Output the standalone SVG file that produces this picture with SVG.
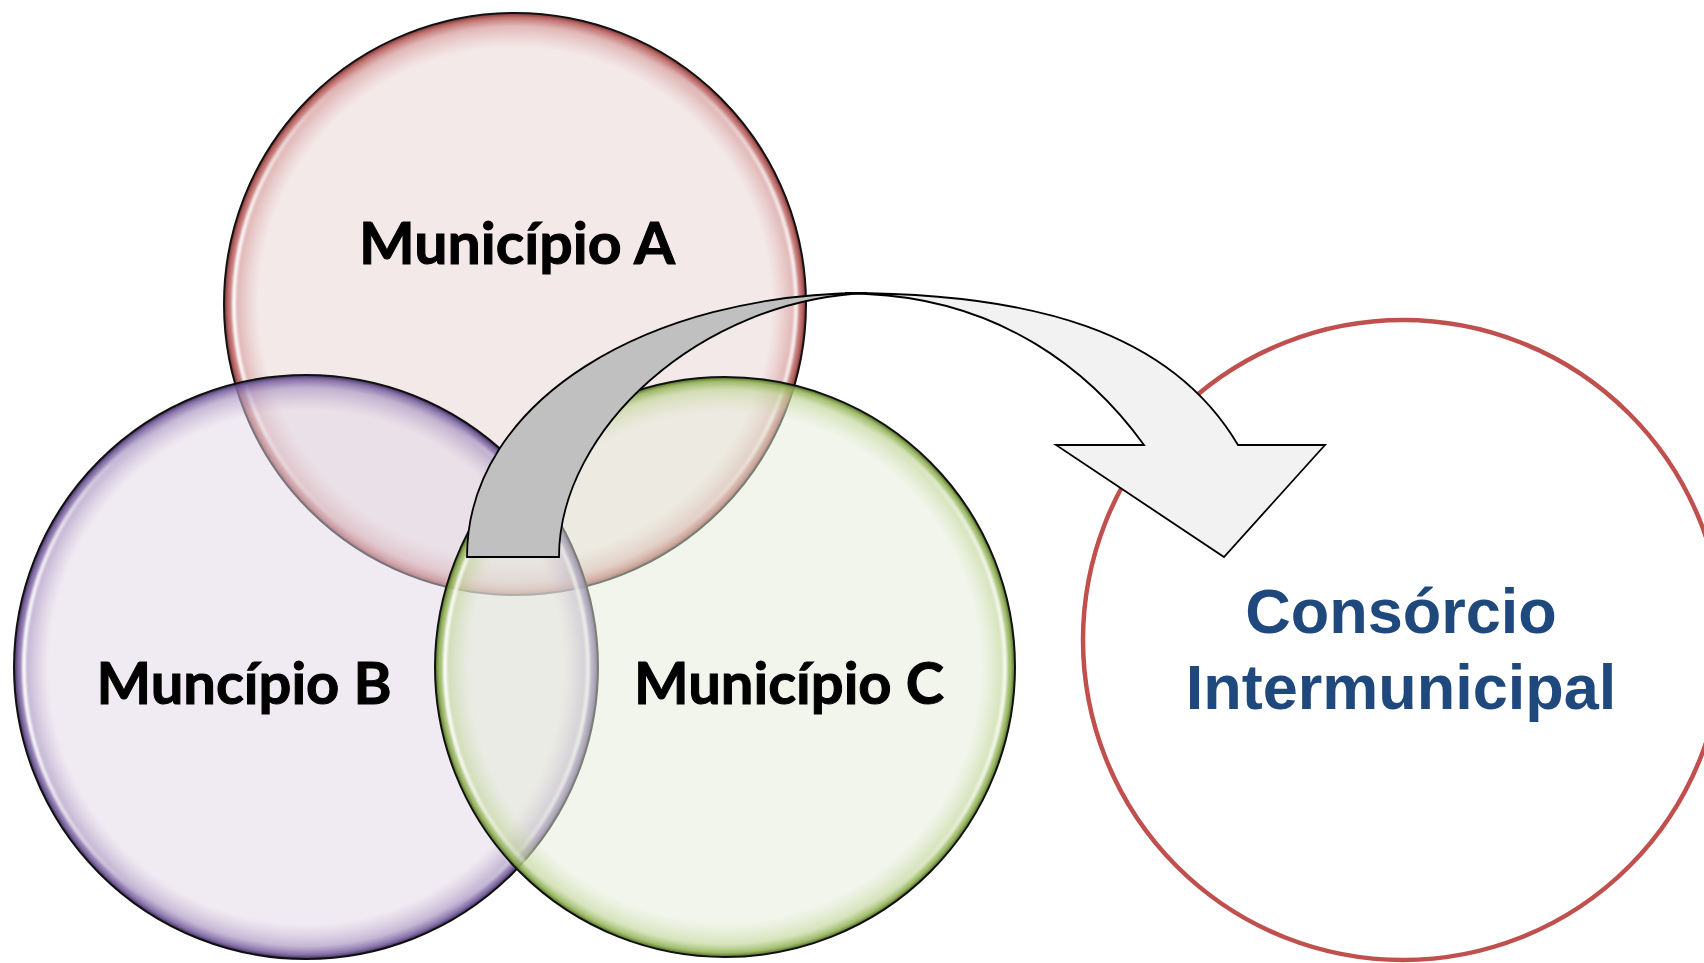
<svg xmlns="http://www.w3.org/2000/svg" width="1704" height="963" viewBox="0 0 1704 963">
<style>
.lbl{font-family:Lato,"Open Sans","Liberation Sans",sans-serif;font-weight:700;font-size:57px;fill:#000;stroke:#000;stroke-width:1;text-anchor:middle}
.cons{font-family:"Liberation Sans",Arial,sans-serif;font-weight:700;font-size:63px;fill:#1F497D;text-anchor:middle}
.edge{stroke:#111;stroke-width:2}
.hl{fill:none;stroke-width:4;filter:url(#blur)}
.arrow{stroke:#000;stroke-width:1.8;stroke-linejoin:miter}
</style>
<defs>
<filter id="blur" x="-10%" y="-10%" width="120%" height="120%"><feGaussianBlur stdDeviation="1.2"/></filter>
<radialGradient id="gA" cx="0.5" cy="0.5" r="0.5">
<stop offset="0" stop-color="#E9D3D3" stop-opacity="0.5"/>
<stop offset="0.88" stop-color="#E9D3D3" stop-opacity="0.5"/>
<stop offset="0.955" stop-color="#D49A99" stop-opacity="0.7"/>
<stop offset="0.985" stop-color="#B8605E" stop-opacity="0.9"/>
<stop offset="1" stop-color="#7A3030" stop-opacity="1"/>
</radialGradient>
<radialGradient id="gB" cx="0.5" cy="0.5" r="0.5">
<stop offset="0" stop-color="#E1D7E5" stop-opacity="0.5"/>
<stop offset="0.88" stop-color="#E1D7E5" stop-opacity="0.5"/>
<stop offset="0.955" stop-color="#AE9AC4" stop-opacity="0.7"/>
<stop offset="0.985" stop-color="#7A62A0" stop-opacity="0.9"/>
<stop offset="1" stop-color="#3E2E5E" stop-opacity="1"/>
</radialGradient>
<radialGradient id="gC" cx="0.5" cy="0.5" r="0.5">
<stop offset="0" stop-color="#E5EBD9" stop-opacity="0.5"/>
<stop offset="0.88" stop-color="#E5EBD9" stop-opacity="0.5"/>
<stop offset="0.955" stop-color="#C6D8A0" stop-opacity="0.7"/>
<stop offset="0.985" stop-color="#94B45A" stop-opacity="0.9"/>
<stop offset="1" stop-color="#4E6A22" stop-opacity="1"/>
</radialGradient>
<linearGradient id="hlg" x1="0" y1="0" x2="1" y2="0">
<stop offset="0" stop-color="#fff" stop-opacity="0.95"/>
<stop offset="0.22" stop-color="#fff" stop-opacity="0"/>
<stop offset="0.75" stop-color="#fff" stop-opacity="0"/>
<stop offset="1" stop-color="#fff" stop-opacity="0.85"/>
</linearGradient>
</defs>

<g id="node-municipio-a">
<circle cx="515" cy="304" r="291" fill="url(#gA)" class="edge"/>
<circle cx="515" cy="304" r="281" class="hl" stroke="url(#hlg)"/>
</g>
<g id="node-municipio-b">
<circle cx="306" cy="667" r="292" fill="url(#gB)" class="edge"/>
<circle cx="306" cy="667" r="282" class="hl" stroke="url(#hlg)"/>
</g>
<g id="node-municipio-c">
<circle cx="725" cy="667" r="290" fill="url(#gC)" class="edge"/>
<circle cx="725" cy="667" r="280" class="hl" stroke="url(#hlg)"/>
</g>
<g id="node-consorcio">
<circle cx="1403" cy="640" r="320" fill="#fff" stroke="#C0504D" stroke-width="4.5"/>
</g>

<g id="connectors">
<path class="arrow" fill="#C0C0C0" d="M467,557 C467,400 650,293 867,293 C700,300 559,430 559,557 Z"/>
<path class="arrow" fill="#F2F2F2" d="M845,293 C1030,293 1170,330 1238,445 L1325,445 L1224,557 L1056,445 L1144,445 C1090,370 1000,300 867,294 Z"/>
</g>

<g id="labels">
<text class="lbl" x="517" y="264" textLength="316" lengthAdjust="spacingAndGlyphs">Município A</text>
<text class="lbl" x="244" y="704" textLength="295" lengthAdjust="spacingAndGlyphs">Muncípio B</text>
<text class="lbl" x="789" y="704" textLength="310" lengthAdjust="spacingAndGlyphs">Município C</text>
<text class="cons" x="1401" y="633">Consórcio</text>
<text class="cons" x="1401" y="709">Intermunicipal</text>
</g>
</svg>
